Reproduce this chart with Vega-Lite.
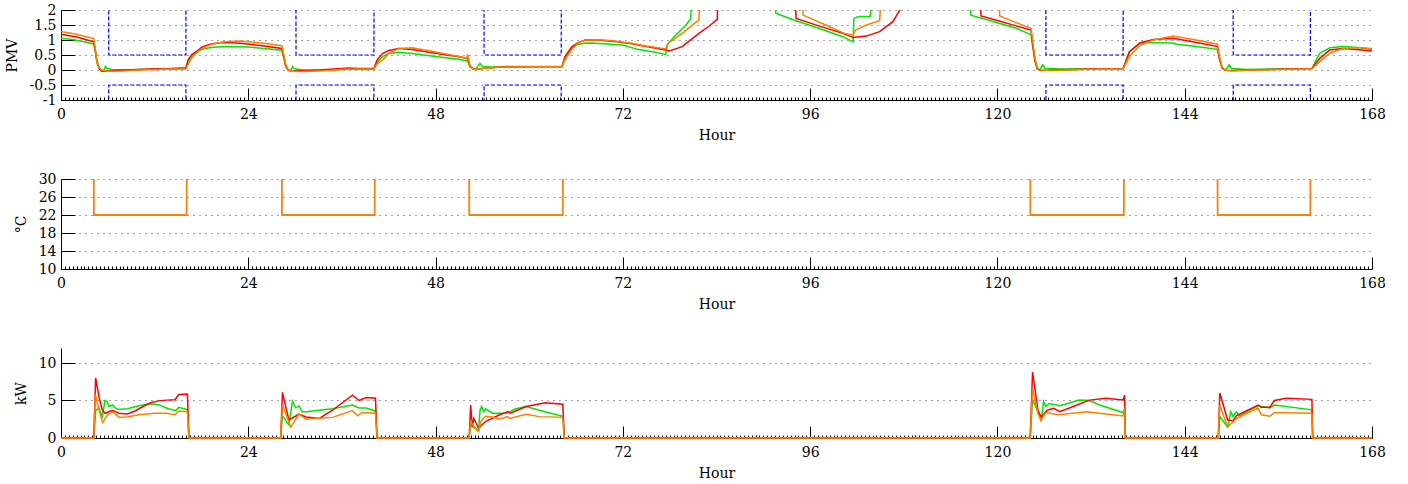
{
  "$schema": "https://vega.github.io/schema/vega-lite/v6.json",
  "padding": {"left": 5, "top": 3, "right": 5, "bottom": 5},
  "background": "white",
  "spacing": 79,
  "bounds": "flush",
  "config": {
    "view": {"stroke": null},
    "font": "DejaVu Serif",
    "axis": {
      "domainColor": "#000000", "domainWidth": 1, "tickColor": "#000000", "tickWidth": 1,
      "labelFont": "DejaVu Serif", "labelFontSize": 14, "labelColor": "#000000",
      "titleFont": "DejaVu Serif", "titleFontSize": 14, "titleFontWeight": "normal", "titleColor": "#000000",
      "gridColor": "#444444", "gridDash": [1, 5], "gridWidth": 1, "gridOpacity": 1
    },
    "axisX": {
      "tickCount": 336, "labelOverlap": false, "labelFlush": false,
      "labelExpr": "datum.value % 24 === 0 ? datum.value + '' : ''",
      "tickSize": {"condition": {"test": "datum.value % 24 === 0", "value": -12}, "value": -3},
      "gridOpacity": {"condition": {"test": "datum.value % 24 === 0 && datum.value > 0", "value": 1}, "value": 0},
      "gridColor": "#8a8a8a", "gridDash": [1, 3],
      "labelPadding": 19, "titlePadding": -2
    },
    "axisY": {"tickSize": -14, "labelPadding": 19, "titlePadding": 10, "labelExpr": "datum.value + ''"}
  },
  "datasets": {
    "band": [
      {"s":"u","h":0,"v":3},{"s":"u","h":6.1,"v":3},{"s":"u","h":6.12,"v":0.5},{"s":"u","h":16.0,"v":0.5},{"s":"u","h":16.02,"v":3},
      {"s":"u","h":30.1,"v":3},{"s":"u","h":30.12,"v":0.5},{"s":"u","h":40.1,"v":0.5},{"s":"u","h":40.12,"v":3},
      {"s":"u","h":54.2,"v":3},{"s":"u","h":54.22,"v":0.5},{"s":"u","h":64.1,"v":0.5},{"s":"u","h":64.12,"v":3},
      {"s":"u","h":126.2,"v":3},{"s":"u","h":126.22,"v":0.5},{"s":"u","h":136.1,"v":0.5},{"s":"u","h":136.12,"v":3},
      {"s":"u","h":150.2,"v":3},{"s":"u","h":150.22,"v":0.5},{"s":"u","h":160.1,"v":0.5},{"s":"u","h":160.12,"v":3},{"s":"u","h":168,"v":3},
      {"s":"l","h":0,"v":-3},{"s":"l","h":6.1,"v":-3},{"s":"l","h":6.12,"v":-0.5},{"s":"l","h":16.0,"v":-0.5},{"s":"l","h":16.02,"v":-3},
      {"s":"l","h":30.1,"v":-3},{"s":"l","h":30.12,"v":-0.5},{"s":"l","h":40.1,"v":-0.5},{"s":"l","h":40.12,"v":-3},
      {"s":"l","h":54.2,"v":-3},{"s":"l","h":54.22,"v":-0.5},{"s":"l","h":64.1,"v":-0.5},{"s":"l","h":64.12,"v":-3},
      {"s":"l","h":126.2,"v":-3},{"s":"l","h":126.22,"v":-0.5},{"s":"l","h":136.1,"v":-0.5},{"s":"l","h":136.12,"v":-3},
      {"s":"l","h":150.2,"v":-3},{"s":"l","h":150.22,"v":-0.5},{"s":"l","h":160.1,"v":-0.5},{"s":"l","h":160.12,"v":-3},{"s":"l","h":168,"v":-3}
    ],
    "pmv": [
      {"s":"g","h":0,"v":1.06},{"s":"g","h":1,"v":1.03},{"s":"g","h":2,"v":0.99},{"s":"g","h":3,"v":0.94},{"s":"g","h":4.2,"v":0.87},{"s":"g","h":4.4,"v":0.6},{"s":"g","h":4.6,"v":0.25},{"s":"g","h":4.9,"v":0.05},{"s":"g","h":5.2,"v":-0.03},{"s":"g","h":5.5,"v":0.0},{"s":"g","h":5.7,"v":0.12},{"s":"g","h":5.9,"v":0.05},{"s":"g","h":6.5,"v":0.02},{"s":"g","h":8,"v":0.0},{"s":"g","h":10,"v":0.02},{"s":"g","h":12,"v":0.03},{"s":"g","h":14,"v":0.03},{"s":"g","h":16,"v":0.04},{"s":"g","h":16.3,"v":0.3},{"s":"g","h":16.8,"v":0.5},{"s":"g","h":17.3,"v":0.6},{"s":"g","h":18,"v":0.68},{"s":"g","h":19,"v":0.74},{"s":"g","h":20,"v":0.77},{"s":"g","h":22,"v":0.78},{"s":"g","h":24,"v":0.77},{"s":"g","h":26,"v":0.72},{"s":"g","h":28.3,"v":0.66},
      {"s":"g","h":28.5,"v":0.45},{"s":"g","h":28.8,"v":0.12},{"s":"g","h":29.1,"v":0.0},{"s":"g","h":29.4,"v":-0.02},{"s":"g","h":29.7,"v":0.12},{"s":"g","h":29.9,"v":0.04},{"s":"g","h":31,"v":0.0},{"s":"g","h":33,"v":-0.02},{"s":"g","h":35,"v":0.0},{"s":"g","h":37,"v":0.03},{"s":"g","h":39,"v":0.02},{"s":"g","h":40.1,"v":0.03},{"s":"g","h":40.5,"v":0.25},{"s":"g","h":41.2,"v":0.45},{"s":"g","h":42,"v":0.55},{"s":"g","h":43.3,"v":0.59},{"s":"g","h":45,"v":0.55},{"s":"g","h":47,"v":0.48},{"s":"g","h":49,"v":0.42},{"s":"g","h":51,"v":0.36},{"s":"g","h":52.1,"v":0.3},
      {"s":"g","h":52.4,"v":0.1},{"s":"g","h":52.8,"v":0.03},{"s":"g","h":53.1,"v":0.02},{"s":"g","h":53.7,"v":0.22},{"s":"g","h":54,"v":0.12},{"s":"g","h":55,"v":0.1},{"s":"g","h":57,"v":0.12},{"s":"g","h":60,"v":0.12},{"s":"g","h":62,"v":0.12},{"s":"g","h":64.2,"v":0.12},{"s":"g","h":64.6,"v":0.45},{"s":"g","h":65.3,"v":0.72},{"s":"g","h":66,"v":0.83},{"s":"g","h":67,"v":0.89},{"s":"g","h":68,"v":0.9},{"s":"g","h":70,"v":0.87},{"s":"g","h":72,"v":0.83},{"s":"g","h":74,"v":0.68},{"s":"g","h":76,"v":0.6},{"s":"g","h":77.5,"v":0.52},{"s":"g","h":77.7,"v":0.85},{"s":"g","h":78.6,"v":1.12},{"s":"g","h":80.1,"v":1.5},{"s":"g","h":80.7,"v":1.72},{"s":"g","h":80.8,"v":2.6},{"s":"g","h":86,"v":3.0},{"s":"g","h":91.5,"v":2.3},{"s":"g","h":91.6,"v":1.89},{"s":"g","h":94,"v":1.66},{"s":"g","h":97,"v":1.4},{"s":"g","h":100.2,"v":1.11},{"s":"g","h":101.5,"v":0.94},{"s":"g","h":101.6,"v":1.72},{"s":"g","h":102.2,"v":1.78},{"s":"g","h":103.7,"v":1.78},{"s":"g","h":103.9,"v":2.4},{"s":"g","h":110,"v":3.0},{"s":"g","h":116.5,"v":2.4},{"s":"g","h":116.6,"v":1.83},{"s":"g","h":119,"v":1.65},{"s":"g","h":122.4,"v":1.39},{"s":"g","h":123.9,"v":1.22},{"s":"g","h":124.3,"v":1.17},
      {"s":"g","h":124.5,"v":0.8},{"s":"g","h":124.8,"v":0.3},{"s":"g","h":125.1,"v":0.05},{"s":"g","h":125.4,"v":0.0},{"s":"g","h":125.8,"v":0.17},{"s":"g","h":126.1,"v":0.06},{"s":"g","h":128,"v":0.03},{"s":"g","h":131,"v":0.04},{"s":"g","h":134,"v":0.04},{"s":"g","h":136.1,"v":0.05},{"s":"g","h":136.9,"v":0.6},{"s":"g","h":138.3,"v":0.91},{"s":"g","h":140,"v":0.91},{"s":"g","h":142.5,"v":0.9},{"s":"g","h":143,"v":0.86},{"s":"g","h":145,"v":0.8},{"s":"g","h":148.2,"v":0.69},
      {"s":"g","h":148.4,"v":0.4},{"s":"g","h":148.8,"v":0.05},{"s":"g","h":149.2,"v":-0.01},{"s":"g","h":149.7,"v":0.17},{"s":"g","h":150,"v":0.05},{"s":"g","h":152,"v":0.02},{"s":"g","h":155,"v":0.03},{"s":"g","h":158,"v":0.04},{"s":"g","h":160.3,"v":0.05},{"s":"g","h":161.3,"v":0.56},{"s":"g","h":162.6,"v":0.74},{"s":"g","h":164.3,"v":0.78},{"s":"g","h":166,"v":0.75},{"s":"g","h":168,"v":0.69},

      {"s":"r","h":0,"v":1.19},{"s":"r","h":2,"v":1.1},{"s":"r","h":4.2,"v":0.94},{"s":"r","h":4.4,"v":0.65},{"s":"r","h":4.6,"v":0.3},{"s":"r","h":4.9,"v":0.05},{"s":"r","h":5.2,"v":-0.04},{"s":"r","h":6,"v":-0.03},{"s":"r","h":8,"v":0.0},{"s":"r","h":10,"v":0.02},{"s":"r","h":12,"v":0.04},{"s":"r","h":14,"v":0.05},{"s":"r","h":15.5,"v":0.07},{"s":"r","h":16,"v":0.07},{"s":"r","h":16.3,"v":0.35},{"s":"r","h":16.8,"v":0.52},{"s":"r","h":17.3,"v":0.6},{"s":"r","h":18,"v":0.75},{"s":"r","h":19,"v":0.85},{"s":"r","h":20,"v":0.9},{"s":"r","h":21,"v":0.92},{"s":"r","h":23,"v":0.89},{"s":"r","h":26,"v":0.8},{"s":"r","h":28.3,"v":0.72},
      {"s":"r","h":28.5,"v":0.5},{"s":"r","h":28.8,"v":0.15},{"s":"r","h":29.1,"v":0.0},{"s":"r","h":29.5,"v":-0.04},{"s":"r","h":31,"v":-0.02},{"s":"r","h":33,"v":0.0},{"s":"r","h":35,"v":0.03},{"s":"r","h":37,"v":0.07},{"s":"r","h":38,"v":0.05},{"s":"r","h":40.1,"v":0.05},{"s":"r","h":40.5,"v":0.33},{"s":"r","h":41.2,"v":0.55},{"s":"r","h":42,"v":0.65},{"s":"r","h":43.3,"v":0.72},{"s":"r","h":45,"v":0.68},{"s":"r","h":47,"v":0.6},{"s":"r","h":49,"v":0.52},{"s":"r","h":51,"v":0.44},{"s":"r","h":52.1,"v":0.39},
      {"s":"r","h":52.4,"v":0.15},{"s":"r","h":52.8,"v":0.05},{"s":"r","h":53.1,"v":0.02},{"s":"r","h":54,"v":0.05},{"s":"r","h":56,"v":0.09},{"s":"r","h":60,"v":0.11},{"s":"r","h":64.2,"v":0.11},{"s":"r","h":64.6,"v":0.45},{"s":"r","h":65.5,"v":0.78},{"s":"r","h":66.3,"v":0.92},{"s":"r","h":67.2,"v":1.0},{"s":"r","h":69,"v":0.99},{"s":"r","h":71,"v":0.95},{"s":"r","h":73,"v":0.88},{"s":"r","h":75,"v":0.78},{"s":"r","h":77.5,"v":0.67},{"s":"r","h":77.9,"v":0.63},{"s":"r","h":79.6,"v":0.78},{"s":"r","h":81.75,"v":1.22},{"s":"r","h":83,"v":1.45},{"s":"r","h":84.1,"v":1.69},{"s":"r","h":84.2,"v":2.6},{"s":"r","h":90,"v":3.0},{"s":"r","h":94.1,"v":2.4},{"s":"r","h":94.2,"v":1.72},{"s":"r","h":97,"v":1.48},{"s":"r","h":100.2,"v":1.22},{"s":"r","h":101.5,"v":1.08},{"s":"r","h":103.2,"v":1.13},{"s":"r","h":104.9,"v":1.28},{"s":"r","h":106.6,"v":1.61},{"s":"r","h":107.5,"v":2.0},{"s":"r","h":107.7,"v":2.5},{"s":"r","h":112,"v":3.0},{"s":"r","h":117.8,"v":2.4},{"s":"r","h":117.9,"v":1.8},{"s":"r","h":120,"v":1.65},{"s":"r","h":122.4,"v":1.47},{"s":"r","h":124.3,"v":1.33},
      {"s":"r","h":124.5,"v":0.9},{"s":"r","h":124.8,"v":0.35},{"s":"r","h":125.1,"v":0.05},{"s":"r","h":125.5,"v":-0.02},{"s":"r","h":127,"v":0.0},{"s":"r","h":130,"v":0.02},{"s":"r","h":133,"v":0.04},{"s":"r","h":136.1,"v":0.04},{"s":"r","h":136.9,"v":0.6},{"s":"r","h":138.3,"v":0.91},{"s":"r","h":140,"v":1.02},{"s":"r","h":142.5,"v":1.06},{"s":"r","h":145,"v":0.94},{"s":"r","h":148.2,"v":0.78},
      {"s":"r","h":148.4,"v":0.45},{"s":"r","h":148.8,"v":0.08},{"s":"r","h":149.2,"v":-0.01},{"s":"r","h":150,"v":-0.02},{"s":"r","h":152,"v":0.0},{"s":"r","h":155,"v":0.02},{"s":"r","h":158,"v":0.04},{"s":"r","h":160.3,"v":0.05},{"s":"r","h":161.3,"v":0.39},{"s":"r","h":162.6,"v":0.67},{"s":"r","h":164.3,"v":0.72},{"s":"r","h":166,"v":0.68},{"s":"r","h":168,"v":0.63},

      {"s":"o","h":0,"v":1.28},{"s":"o","h":2,"v":1.19},{"s":"o","h":4.2,"v":1.05},{"s":"o","h":4.4,"v":0.7},{"s":"o","h":4.6,"v":0.3},{"s":"o","h":4.9,"v":0.08},{"s":"o","h":5.2,"v":0.0},{"s":"o","h":6,"v":-0.04},{"s":"o","h":8,"v":-0.03},{"s":"o","h":10,"v":0.0},{"s":"o","h":12,"v":0.02},{"s":"o","h":14,"v":0.03},{"s":"o","h":16,"v":0.04},{"s":"o","h":16.3,"v":0.2},{"s":"o","h":16.8,"v":0.42},{"s":"o","h":17.3,"v":0.55},{"s":"o","h":18,"v":0.7},{"s":"o","h":19,"v":0.83},{"s":"o","h":20,"v":0.9},{"s":"o","h":21,"v":0.94},{"s":"o","h":23,"v":0.97},{"s":"o","h":26,"v":0.89},{"s":"o","h":28.3,"v":0.81},
      {"s":"o","h":28.5,"v":0.55},{"s":"o","h":28.8,"v":0.2},{"s":"o","h":29.1,"v":0.02},{"s":"o","h":29.5,"v":-0.04},{"s":"o","h":31,"v":-0.05},{"s":"o","h":33,"v":-0.03},{"s":"o","h":35,"v":0.0},{"s":"o","h":37,"v":0.03},{"s":"o","h":40.1,"v":0.03},{"s":"o","h":40.5,"v":0.2},{"s":"o","h":41.2,"v":0.33},{"s":"o","h":42,"v":0.55},{"s":"o","h":43.3,"v":0.72},{"s":"o","h":45,"v":0.74},{"s":"o","h":47,"v":0.65},{"s":"o","h":49,"v":0.55},{"s":"o","h":51,"v":0.45},{"s":"o","h":52.0,"v":0.39},{"s":"o","h":52.1,"v":0.53},{"s":"o","h":52.4,"v":0.15},{"s":"o","h":52.8,"v":0.03},{"s":"o","h":53.1,"v":0.02},{"s":"o","h":54,"v":0.05},{"s":"o","h":56,"v":0.09},{"s":"o","h":60,"v":0.11},{"s":"o","h":64.2,"v":0.11},{"s":"o","h":64.6,"v":0.35},{"s":"o","h":65.5,"v":0.7},{"s":"o","h":66.3,"v":0.9},{"s":"o","h":67.2,"v":1.0},{"s":"o","h":69,"v":1.01},{"s":"o","h":71,"v":0.97},{"s":"o","h":73,"v":0.9},{"s":"o","h":75,"v":0.8},{"s":"o","h":77.5,"v":0.7},{"s":"o","h":77.9,"v":0.91},{"s":"o","h":79.6,"v":1.22},{"s":"o","h":81.75,"v":1.67},{"s":"o","h":81.9,"v":2.6},{"s":"o","h":88,"v":3.0},{"s":"o","h":95,"v":2.4},{"s":"o","h":95.1,"v":1.83},{"s":"o","h":98,"v":1.5},{"s":"o","h":100.4,"v":1.22},{"s":"o","h":101.5,"v":1.17},{"s":"o","h":101.8,"v":1.33},{"s":"o","h":103.2,"v":1.5},{"s":"o","h":104.9,"v":1.64},{"s":"o","h":105.1,"v":2.4},{"s":"o","h":112,"v":3.0},{"s":"o","h":120.2,"v":2.4},{"s":"o","h":120.3,"v":1.8},{"s":"o","h":122.4,"v":1.58},{"s":"o","h":124.3,"v":1.39},
      {"s":"o","h":124.5,"v":1.0},{"s":"o","h":124.8,"v":0.4},{"s":"o","h":125.1,"v":0.08},{"s":"o","h":125.5,"v":0.0},{"s":"o","h":127,"v":-0.02},{"s":"o","h":130,"v":0.01},{"s":"o","h":133,"v":0.03},{"s":"o","h":136.1,"v":0.03},{"s":"o","h":136.9,"v":0.44},{"s":"o","h":138.3,"v":0.83},{"s":"o","h":140,"v":1.0},{"s":"o","h":142.5,"v":1.13},{"s":"o","h":145.1,"v":1.02},{"s":"o","h":148.2,"v":0.86},
      {"s":"o","h":148.4,"v":0.5},{"s":"o","h":148.8,"v":0.1},{"s":"o","h":149.2,"v":0.0},{"s":"o","h":150,"v":-0.03},{"s":"o","h":152,"v":-0.01},{"s":"o","h":155,"v":0.01},{"s":"o","h":158,"v":0.03},{"s":"o","h":160.3,"v":0.04},{"s":"o","h":161.3,"v":0.28},{"s":"o","h":162.6,"v":0.56},{"s":"o","h":164.3,"v":0.72},{"s":"o","h":166,"v":0.75},{"s":"o","h":168,"v":0.72}
    ],
    "sp": [
      {"h":0,"v":35},{"h":4.2,"v":35},{"h":4.22,"v":22},{"h":16.1,"v":22},{"h":16.12,"v":35},
      {"h":28.3,"v":35},{"h":28.32,"v":22},{"h":40.2,"v":22},{"h":40.22,"v":35},
      {"h":52.3,"v":35},{"h":52.32,"v":22},{"h":64.3,"v":22},{"h":64.32,"v":35},
      {"h":124.2,"v":35},{"h":124.22,"v":22},{"h":136.2,"v":22},{"h":136.22,"v":35},
      {"h":148.2,"v":35},{"h":148.22,"v":22},{"h":160.1,"v":22},{"h":160.12,"v":35},{"h":168,"v":35}
    ],
    "kw": [
      {"s":"g","h":0,"v":0},{"s":"g","h":4.2,"v":0},{"s":"g","h":4.45,"v":3.7},{"s":"g","h":4.87,"v":3.95},{"s":"g","h":5.3,"v":2.85},{"s":"g","h":5.64,"v":5.0},{"s":"g","h":5.94,"v":4.8},{"s":"g","h":6.15,"v":4.2},{"s":"g","h":6.58,"v":4.4},{"s":"g","h":7.0,"v":3.95},{"s":"g","h":7.44,"v":3.8},{"s":"g","h":8.5,"v":3.9},{"s":"g","h":10,"v":4.3},{"s":"g","h":11.3,"v":4.55},{"s":"g","h":12.5,"v":4.45},{"s":"g","h":13.5,"v":4.0},{"s":"g","h":14.7,"v":3.65},{"s":"g","h":15.1,"v":4.1},{"s":"g","h":16.2,"v":3.8},{"s":"g","h":16.4,"v":0},
      {"s":"g","h":28.15,"v":0},{"s":"g","h":28.38,"v":2.95},{"s":"g","h":29.2,"v":1.75},{"s":"g","h":29.66,"v":4.9},{"s":"g","h":30.1,"v":4.0},{"s":"g","h":30.5,"v":4.3},{"s":"g","h":30.9,"v":3.5},{"s":"g","h":31.4,"v":3.5},{"s":"g","h":34.8,"v":3.9},{"s":"g","h":37.35,"v":4.4},{"s":"g","h":38.2,"v":4.0},{"s":"g","h":39.1,"v":4.0},{"s":"g","h":40.3,"v":3.6},{"s":"g","h":40.5,"v":0},
      {"s":"g","h":52.3,"v":0},{"s":"g","h":52.5,"v":1.75},{"s":"g","h":53.5,"v":0.9},{"s":"g","h":53.7,"v":3.7},{"s":"g","h":53.9,"v":4.2},{"s":"g","h":54.2,"v":3.5},{"s":"g","h":54.4,"v":3.9},{"s":"g","h":55.3,"v":3.3},{"s":"g","h":57.0,"v":3.3},{"s":"g","h":58.3,"v":3.9},{"s":"g","h":59.6,"v":4.2},{"s":"g","h":61.3,"v":3.7},{"s":"g","h":64.3,"v":2.9},{"s":"g","h":64.5,"v":0},
      {"s":"g","h":124.2,"v":0},{"s":"g","h":124.5,"v":5.06},{"s":"g","h":125.2,"v":3.5},{"s":"g","h":125.6,"v":2.2},{"s":"g","h":125.9,"v":4.9},{"s":"g","h":126.2,"v":4.2},{"s":"g","h":126.6,"v":4.6},{"s":"g","h":128.0,"v":4.3},{"s":"g","h":130.5,"v":5.06},{"s":"g","h":131.8,"v":5.0},{"s":"g","h":133.1,"v":4.4},{"s":"g","h":136.1,"v":3.4},{"s":"g","h":136.3,"v":3.9},{"s":"g","h":136.4,"v":0},
      {"s":"g","h":148.3,"v":0},{"s":"g","h":148.5,"v":2.9},{"s":"g","h":149.5,"v":1.45},{"s":"g","h":149.9,"v":3.5},{"s":"g","h":150.2,"v":2.85},{"s":"g","h":150.6,"v":3.5},{"s":"g","h":151.0,"v":2.95},{"s":"g","h":153.4,"v":4.3},{"s":"g","h":154.9,"v":4.0},{"s":"g","h":155.5,"v":4.4},{"s":"g","h":160.3,"v":3.75},{"s":"g","h":160.4,"v":0},{"s":"g","h":168,"v":0},

      {"s":"r","h":0,"v":0},{"s":"r","h":4.2,"v":0},{"s":"r","h":4.44,"v":8.0},{"s":"r","h":4.87,"v":5.5},{"s":"r","h":5.3,"v":3.7},{"s":"r","h":5.64,"v":3.3},{"s":"r","h":6.58,"v":3.7},{"s":"r","h":7.44,"v":3.3},{"s":"r","h":8.5,"v":3.2},{"s":"r","h":9.5,"v":3.6},{"s":"r","h":10.5,"v":4.2},{"s":"r","h":11.5,"v":4.7},{"s":"r","h":12.5,"v":4.95},{"s":"r","h":13.5,"v":5.05},{"s":"r","h":14.6,"v":5.1},{"s":"r","h":15.1,"v":5.8},{"s":"r","h":16.2,"v":5.85},{"s":"r","h":16.4,"v":0},
      {"s":"r","h":28.15,"v":0},{"s":"r","h":28.38,"v":6.08},{"s":"r","h":29.2,"v":2.4},{"s":"r","h":30.5,"v":3.2},{"s":"r","h":31.4,"v":2.8},{"s":"r","h":33.1,"v":2.6},{"s":"r","h":34.8,"v":3.7},{"s":"r","h":37.35,"v":5.7},{"s":"r","h":38.2,"v":5.0},{"s":"r","h":39.1,"v":5.4},{"s":"r","h":40.3,"v":5.3},{"s":"r","h":40.5,"v":0},
      {"s":"r","h":52.3,"v":0},{"s":"r","h":52.5,"v":4.4},{"s":"r","h":52.7,"v":1.5},{"s":"r","h":52.9,"v":2.6},{"s":"r","h":53.2,"v":2.0},{"s":"r","h":53.5,"v":1.3},{"s":"r","h":54.4,"v":2.2},{"s":"r","h":56.2,"v":3.1},{"s":"r","h":57.2,"v":3.5},{"s":"r","h":57.6,"v":3.3},{"s":"r","h":59.6,"v":4.2},{"s":"r","h":62.1,"v":4.7},{"s":"r","h":64.3,"v":4.5},{"s":"r","h":64.5,"v":0},
      {"s":"r","h":124.2,"v":0},{"s":"r","h":124.5,"v":8.8},{"s":"r","h":125.2,"v":3.7},{"s":"r","h":125.6,"v":2.8},{"s":"r","h":126.4,"v":3.7},{"s":"r","h":127.2,"v":3.95},{"s":"r","h":128.0,"v":3.5},{"s":"r","h":129.7,"v":4.2},{"s":"r","h":131.8,"v":5.05},{"s":"r","h":133.9,"v":5.3},{"s":"r","h":136.1,"v":5.06},{"s":"r","h":136.3,"v":5.7},{"s":"r","h":136.4,"v":0},
      {"s":"r","h":148.3,"v":0},{"s":"r","h":148.5,"v":6.0},{"s":"r","h":149.5,"v":2.4},{"s":"r","h":150.2,"v":2.3},{"s":"r","h":150.6,"v":2.95},{"s":"r","h":153.4,"v":4.4},{"s":"r","h":153.8,"v":4.1},{"s":"r","h":154.9,"v":4.1},{"s":"r","h":155.5,"v":5.0},{"s":"r","h":157.0,"v":5.3},{"s":"r","h":160.3,"v":5.15},{"s":"r","h":160.4,"v":0},{"s":"r","h":168,"v":0},

      {"s":"o","h":0,"v":0},{"s":"o","h":4.2,"v":0},{"s":"o","h":4.4,"v":5.8},{"s":"o","h":4.87,"v":3.7},{"s":"o","h":5.35,"v":2.06},{"s":"o","h":5.94,"v":3.07},{"s":"o","h":6.58,"v":3.5},{"s":"o","h":7.44,"v":2.76},{"s":"o","h":8.5,"v":2.8},{"s":"o","h":10,"v":3.1},{"s":"o","h":12,"v":3.3},{"s":"o","h":13.5,"v":3.3},{"s":"o","h":14.6,"v":3.1},{"s":"o","h":15.1,"v":3.6},{"s":"o","h":16.2,"v":3.5},{"s":"o","h":16.4,"v":0},
      {"s":"o","h":28.15,"v":0},{"s":"o","h":28.38,"v":4.4},{"s":"o","h":29.44,"v":1.45},{"s":"o","h":30.5,"v":3.2},{"s":"o","h":31.4,"v":2.5},{"s":"o","h":34.8,"v":2.75},{"s":"o","h":37.35,"v":3.65},{"s":"o","h":38.0,"v":2.95},{"s":"o","h":38.6,"v":3.4},{"s":"o","h":40.3,"v":3.3},{"s":"o","h":40.5,"v":0},
      {"s":"o","h":52.3,"v":0},{"s":"o","h":52.5,"v":2.4},{"s":"o","h":52.7,"v":1.8},{"s":"o","h":53.5,"v":0.9},{"s":"o","h":53.8,"v":2.2},{"s":"o","h":54.4,"v":2.9},{"s":"o","h":55.3,"v":2.8},{"s":"o","h":56.2,"v":2.5},{"s":"o","h":57.2,"v":2.85},{"s":"o","h":57.5,"v":2.6},{"s":"o","h":59.6,"v":3.15},{"s":"o","h":61.3,"v":2.85},{"s":"o","h":64.3,"v":2.75},{"s":"o","h":64.5,"v":0},
      {"s":"o","h":124.2,"v":0},{"s":"o","h":124.5,"v":6.6},{"s":"o","h":125.2,"v":3.2},{"s":"o","h":125.6,"v":2.4},{"s":"o","h":126.2,"v":3.4},{"s":"o","h":127.8,"v":3.1},{"s":"o","h":131.4,"v":3.5},{"s":"o","h":133.1,"v":3.3},{"s":"o","h":136.1,"v":2.95},{"s":"o","h":136.3,"v":3.9},{"s":"o","h":136.4,"v":0},
      {"s":"o","h":148.3,"v":0},{"s":"o","h":148.5,"v":4.4},{"s":"o","h":149.5,"v":1.45},{"s":"o","h":150.6,"v":2.6},{"s":"o","h":153.4,"v":4.0},{"s":"o","h":153.8,"v":3.1},{"s":"o","h":154.9,"v":2.9},{"s":"o","h":155.5,"v":3.4},{"s":"o","h":160.3,"v":3.3},{"s":"o","h":160.4,"v":0},{"s":"o","h":168,"v":0}
    ]
  },
  "vconcat": [
    {
      "width": 1311, "height": 90,
      "encoding": {
        "x": {"field": "h", "type": "quantitative", "scale": {"domain": [0, 168], "nice": false, "zero": false}, "axis": {"title": "Hour"}},
        "y": {"field": "v", "type": "quantitative", "scale": {"domain": [-1, 2], "nice": false}, "axis": {"title": "PMV", "values": [-1, -0.5, 0, 0.5, 1, 1.5, 2]}}
      },
      "layer": [
        {"data": {"name": "band"}, "mark": {"type": "line", "color": "#0000ff", "strokeDash": [4, 2], "strokeWidth": 1.2, "clip": true}, "encoding": {"detail": {"field": "s"}}},
        {"data": {"name": "pmv"}, "transform": [{"filter": "datum.s === 'g'"}], "mark": {"type": "line", "color": "#00e600", "strokeWidth": 1.5, "clip": true}},
        {"data": {"name": "pmv"}, "transform": [{"filter": "datum.s === 'r'"}], "mark": {"type": "line", "color": "#ff0000", "strokeWidth": 1.5, "clip": true}},
        {"data": {"name": "pmv"}, "transform": [{"filter": "datum.s === 'o'"}], "mark": {"type": "line", "color": "#ff8000", "strokeWidth": 1.5, "clip": true}}
      ]
    },
    {
      "width": 1311, "height": 90,
      "encoding": {
        "x": {"field": "h", "type": "quantitative", "scale": {"domain": [0, 168], "nice": false, "zero": false}, "axis": {"title": "Hour"}},
        "y": {"field": "v", "type": "quantitative", "scale": {"domain": [10, 30], "nice": false, "zero": false}, "axis": {"title": "°C", "values": [10, 14, 18, 22, 26, 30]}}
      },
      "layer": [
        {"data": {"name": "sp"}, "mark": {"type": "line", "color": "#f58210", "strokeWidth": 1.8, "clip": true}}
      ]
    },
    {
      "width": 1311, "height": 90,
      "encoding": {
        "x": {"field": "h", "type": "quantitative", "scale": {"domain": [0, 168], "nice": false, "zero": false}, "axis": {"title": "Hour"}},
        "y": {"field": "v", "type": "quantitative", "scale": {"domain": [0, 12], "nice": false}, "axis": {"title": "kW", "values": [0, 5, 10]}}
      },
      "layer": [
        {"data": {"name": "kw"}, "transform": [{"filter": "datum.s === 'g'"}], "mark": {"type": "line", "color": "#00e600", "strokeWidth": 1.5}},
        {"data": {"name": "kw"}, "transform": [{"filter": "datum.s === 'r'"}], "mark": {"type": "line", "color": "#ff0000", "strokeWidth": 1.5}},
        {"data": {"name": "kw"}, "transform": [{"filter": "datum.s === 'o'"}], "mark": {"type": "line", "color": "#ff8000", "strokeWidth": 1.5}}
      ]
    }
  ]
}
